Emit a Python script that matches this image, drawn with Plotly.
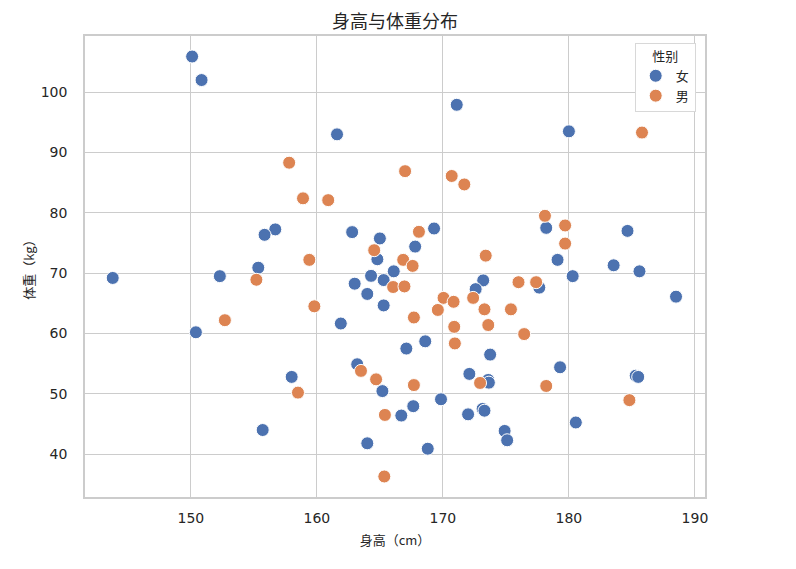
import plotly.graph_objects as go

# 女 (female) points
female_height = [150.1, 150.85, 161.6, 171.1, 180.0, 156.7, 155.85, 162.8, 165.0, 164.8,
                 155.35, 166.1, 169.3, 167.8, 178.2, 184.65, 179.1, 183.55, 185.6, 143.8,
                 152.3, 150.4, 161.9, 163.0, 164.3, 165.3, 164.0, 165.3, 167.1, 163.2,
                 165.2, 166.7, 164.0, 158.0, 155.7, 173.2, 172.6, 168.6, 173.75, 172.1,
                 173.6, 173.65, 177.65, 180.3, 188.5, 179.3, 185.3, 185.5, 180.55, 167.65,
                 169.85, 172.0, 173.15, 173.3, 174.9, 175.1, 168.8]
female_weight = [105.9, 102.0, 93.0, 97.9, 93.5, 77.25, 76.35, 76.8, 75.75, 72.3,
                 70.9, 70.3, 77.4, 74.4, 77.5, 77.0, 72.2, 71.3, 70.3, 69.2,
                 69.5, 60.2, 61.65, 68.25, 69.55, 68.85, 66.55, 64.65, 57.5, 54.9,
                 50.45, 46.4, 41.8, 52.8, 44.0, 68.8, 67.35, 58.7, 56.5, 53.3,
                 52.3, 51.85, 67.6, 69.5, 66.1, 54.4, 53.0, 52.8, 45.25, 47.95,
                 49.1, 46.6, 47.5, 47.2, 43.85, 42.3, 40.9]

# 男 (male) points
male_height = [157.8, 158.9, 160.9, 167.0, 170.7, 171.7, 178.1, 179.7, 179.7, 185.8,
               164.55, 159.4, 166.85, 168.1, 167.6, 173.4, 155.2, 159.8, 152.7, 166.05,
               166.95, 163.5, 164.7, 165.4, 165.35, 158.5, 172.4, 170.05, 170.85, 169.6,
               173.3, 175.4, 167.7, 170.9, 173.6, 176.45, 170.95, 172.95, 176.0, 177.4,
               184.8, 167.7, 178.2]
male_weight = [88.3, 82.4, 82.1, 86.9, 86.1, 84.7, 79.5, 77.9, 74.9, 93.3,
               73.8, 72.2, 72.2, 76.85, 71.2, 72.9, 68.9, 64.5, 62.2, 67.7,
               67.8, 53.8, 52.4, 46.5, 36.3, 50.2, 65.9, 65.9, 65.25, 63.9,
               64.0, 64.0, 62.65, 61.1, 61.4, 59.9, 58.35, 51.8, 68.5, 68.5,
               48.95, 51.45, 51.3]

x_ticks = [150, 160, 170, 180, 190]
y_ticks = [40, 50, 60, 70, 80, 90, 100]

cjk_font = "Noto Sans CJK SC, DejaVu Sans, sans-serif"
tick_font = "DejaVu Sans, sans-serif"
text_color = "#262626"
grid_color = "#cccccc"

fig = go.Figure()

fig.add_trace(go.Scatter(x=female_height, y=female_weight, mode='markers', name='女',
                         marker=dict(size=13, color='#4C72B0',
                                     line=dict(width=1, color='white'))))
fig.add_trace(go.Scatter(x=male_height, y=male_weight, mode='markers', name='男',
                         marker=dict(size=13, color='#DD8452',
                                     line=dict(width=1, color='white'))))

# page body has an 8px margin, so the figure is 8px smaller than the window
fig.update_layout(
    width=788, height=561,
    margin=dict(l=77, r=91, t=28, b=72),
    paper_bgcolor='white', plot_bgcolor='white',
    font=dict(family=cjk_font, color=text_color, size=13),
    title=dict(text='身高与体重分布', x=0.5, xref='paper', xanchor='center',
               y=1 - 14 / 561, yanchor='middle',
               font=dict(size=18, color=text_color)),
    legend=dict(title=dict(text='性别', side='top center', font=dict(size=13)),
                x=0.985, xanchor='right', y=0.985, yanchor='top',
                bgcolor='white', bordercolor='#d8d8d8', borderwidth=1,
                font=dict(size=13), itemwidth=30),
    showlegend=True,
)

fig.update_xaxes(range=[141.6, 190.8], tickvals=x_ticks, automargin=False,
                 tickfont=dict(family=tick_font, size=14),
                 showgrid=True, gridcolor=grid_color, gridwidth=1,
                 showline=True, mirror=True, linecolor=grid_color, linewidth=1.5,
                 zeroline=False, ticks='', ticklabelstandoff=7,
                 title=dict(text='身高（cm）', font=dict(size=13), standoff=11))
fig.update_yaxes(range=[32.9, 109.3], tickvals=y_ticks, automargin=False,
                 tickfont=dict(family=tick_font, size=14),
                 showgrid=True, gridcolor=grid_color, gridwidth=1,
                 showline=True, mirror=True, linecolor=grid_color, linewidth=1.5,
                 zeroline=False, ticks='', ticklabelstandoff=13,
                 title=dict(text='体重（kg）', font=dict(size=13), standoff=3))

fig.write_html("out.html")
